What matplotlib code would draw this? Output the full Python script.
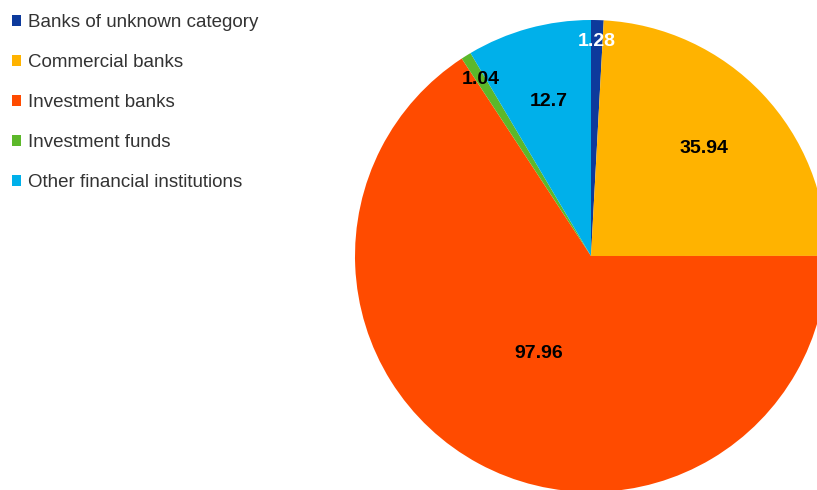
import numpy as np
import matplotlib
matplotlib.use("Agg")
import matplotlib.pyplot as plt
from matplotlib.patches import Patch

categories = ["Banks of unknown category", "Commercial banks", "Investment banks",
              "Investment funds", "Other financial institutions"]
values = [1.28, 35.94, 97.96, 1.04, 12.7]
colors = ["#0d3a9c", "#ffb300", "#ff4b00", "#5cb82a", "#00b0ea"]
label_colors = ["white", "black", "black", "black", "black"]
label_dist = [0.91, 0.66, 0.47, 0.88, 0.68]

plt.rcParams["font.family"] = ["Liberation Sans", "DejaVu Sans"]

W, H = 817, 490
fig = plt.figure(figsize=(W / 100, H / 100), dpi=100)

# pie axes: centre (591, 256) px, radius 236 px
cx, cy, r = 591, 256, 236
ax = fig.add_axes([(cx - r) / W, (H - cy - r) / H, 2 * r / W, 2 * r / H])
wedges, _ = ax.pie(values, colors=colors, startangle=90, counterclock=False,
                   wedgeprops=dict(linewidth=0))
ax.set_xlim(-1, 1)
ax.set_ylim(-1, 1)
ax.axis("off")

for w, v, d, c in zip(wedges, values, label_dist, label_colors):
    mid = np.deg2rad((w.theta1 + w.theta2) / 2)
    ax.text(d * np.cos(mid), d * np.sin(mid), f"{v:g}", ha="center", va="center",
            fontsize=14, fontweight="bold", color=c)

handles = [Patch(facecolor=c, edgecolor="none") for c in colors]
fig.legend(handles, categories, loc="upper left", bbox_to_anchor=(0.002, 0.992),
           frameon=False, fontsize=13.5, handlelength=0.5, handleheight=0.5,
           handletextpad=0.35, labelspacing=1.23, labelcolor="#333333",
           borderaxespad=0.15)

fig.savefig("out.png", dpi=100)
